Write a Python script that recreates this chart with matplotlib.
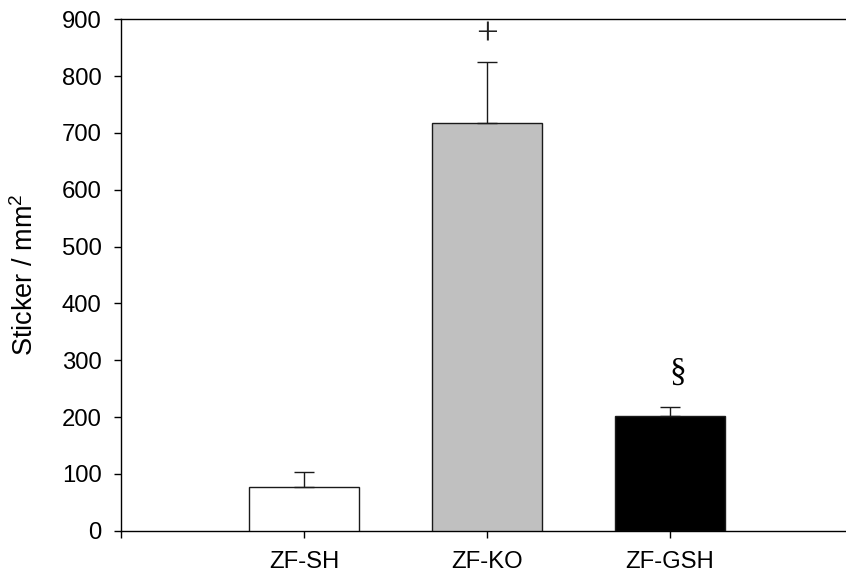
import matplotlib
matplotlib.use("Agg")
import matplotlib.pyplot as plt
import numpy as np

plt.rcParams['font.family'] = ['Liberation Sans', 'DejaVu Sans']
plt.rcParams['mathtext.fontset'] = 'custom'
plt.rcParams['mathtext.rm'] = 'Liberation Sans'

groups = ['ZF-SH', 'ZF-KO', 'ZF-GSH']
means = [77, 718, 201]
errors = [26, 106, 16]
bar_colors = ['#ffffff', '#c0c0c0', '#000000']
marks = ['', '+', '§']
mark_heights = [0, 872, 279]
yticks = [0, 100, 200, 300, 400, 500, 600, 700, 800, 900]

fig = plt.figure(figsize=(8.46, 5.77), dpi=100)
ax = fig.add_axes([121 / 846, 1 - 530.7 / 577, 732 / 846, 511.4 / 577])

x = np.arange(1, len(groups) + 1)
ax.bar(x, means, width=0.6, color=bar_colors, edgecolor='#1a1a1a',
       linewidth=1.0, zorder=3)
ax.errorbar(x, means, yerr=[np.zeros(len(errors)), errors], fmt='none',
            ecolor='#1a1a1a', elinewidth=1.0, capsize=7.5, capthick=1.0,
            zorder=4)

# significance symbols above the bars
for xi, m, h in zip(x, marks, mark_heights):
    if not m:
        continue
    if m == '+':
        ax.text(xi, h, m, ha='center', va='center', fontsize=28,
                family='Liberation Serif', color='#222222')
    else:
        ax.text(xi + 0.04, h, m, ha='center', va='center', fontsize=24,
                family='Liberation Serif', color='#000000')

ax.set_xlim(0, 4)
ax.set_ylim(0, 900)
ax.set_yticks(yticks)
ax.set_xticks([0, 1, 2, 3])
ax.set_xticklabels([''] + groups)

ax.spines['right'].set_visible(False)
for s in ['left', 'bottom', 'top']:
    ax.spines[s].set_linewidth(1.0)
    ax.spines[s].set_color('#000000')

ax.tick_params(axis='both', direction='out', length=5, width=1.0,
               labelsize=17.2, colors='#000000')
ax.tick_params(axis='x', pad=9.5)
ax.tick_params(axis='y', pad=9)
ax.tick_params(top=False, right=False)

ax.set_ylabel(r'Sticker / mm$^\mathregular{2}$', fontsize=19.5)
ax.yaxis.set_label_coords(-0.112, 0.5)

fig.savefig('out.png', dpi=100)
